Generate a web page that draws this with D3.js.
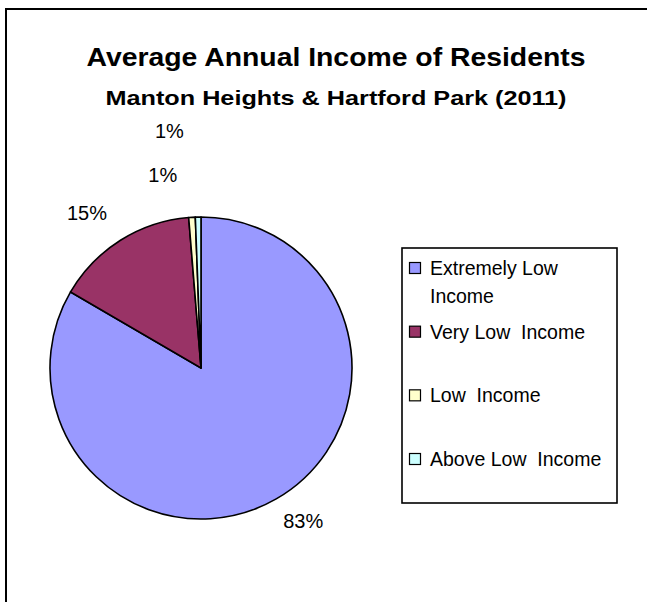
<!DOCTYPE html>
<html>
    <head>
        <title>Average Annual Income | D3</title>

        <script src="https://d3js.org/d3.v7.min.js" charset="utf-8"></script>

        <style>
            body {
                margin: 0;
                background: white;
                font-family: "Liberation Sans", Arial, sans-serif;
            }
            text {
                white-space: pre;
            }
        </style>
    </head>

    <body>
        <script>
            //chart data
            var categories = ["Extremely Low Income", "Very Low  Income", "Low  Income", "Above Low  Income"];
            var legendLines = [["Extremely Low", "Income"], ["Very Low  Income"], ["Low  Income"], ["Above Low  Income"]];
            var shares = [83.4, 15.3, 0.7, 0.6];
            var labels = ["83%", "15%", "1%", "1%"];
            var colors = ["#9999ff", "#993366", "#ffffcc", "#ccffff"];

            var width = 647;
            var height = 602;

            var svg = d3.select("body")
                .append("svg")
                .attr("width", width)
                .attr("height", height);

            //outer chart frame (right and bottom run off the page)
            svg.append("rect")
                .attr("x", 6)
                .attr("y", 9)
                .attr("width", 700)
                .attr("height", 700)
                .attr("fill", "none")
                .attr("stroke", "#000")
                .attr("stroke-width", 2);

            //titles
            svg.append("text")
                .attr("x", 336)
                .attr("y", 66)
                .attr("text-anchor", "middle")
                .attr("font-size", 25)
                .attr("font-weight", "bold")
                .attr("textLength", 499)
                .attr("lengthAdjust", "spacingAndGlyphs")
                .text("Average Annual Income of Residents");

            svg.append("text")
                .attr("x", 336)
                .attr("y", 105)
                .attr("text-anchor", "middle")
                .attr("font-size", 21)
                .attr("font-weight", "bold")
                .attr("textLength", 461)
                .attr("lengthAdjust", "spacingAndGlyphs")
                .text("Manton Heights & Hartford Park (2011)");

            //pie
            var cx = 201, cy = 368, radius = 151;

            var pie = d3.pie().sort(null).value(function(d) { return d; });
            var arcs = pie(shares);

            var arc = d3.arc().innerRadius(0).outerRadius(radius);
            var labelArc = d3.arc().innerRadius(radius + 14).outerRadius(radius + 14);

            var g = svg.append("g")
                .attr("transform", "translate(" + cx + "," + cy + ")");

            g.selectAll("path")
                .data(arcs)
                .enter()
                .append("path")
                .attr("d", arc)
                .attr("fill", function(d, i) { return colors[i]; })
                .attr("stroke", "#000")
                .attr("stroke-width", 1.6)
                .attr("stroke-linejoin", "round");

            //percentage labels; the thin slices get stacked above the pie
            g.selectAll("text.pct")
                .data(arcs)
                .enter()
                .append("text")
                .attr("class", "pct")
                .attr("font-size", 20)
                .each(function(d, i) {
                    var p = labelArc.centroid(d);
                    var t = d3.select(this);
                    if (d.endAngle - d.startAngle < 0.2) {
                        //Excel pushed these up, one above the other
                        var k = (i == labels.length - 1) ? 1 : 0;
                        t.attr("x", p[0] - 14)
                            .attr("y", -radius - 35 - k * 44)
                            .attr("text-anchor", "end");
                    } else if (p[0] >= 0) {
                        t.attr("x", p[0])
                            .attr("y", p[1] + 17)
                            .attr("text-anchor", "start");
                    } else {
                        t.attr("x", p[0] - 6)
                            .attr("y", p[1] - 8)
                            .attr("text-anchor", "end");
                    }
                })
                .text(function(d, i) { return labels[i]; });

            //legend
            var legend = svg.append("g");
            var legendY = d3.scaleLinear().domain([0, 3]).range([268, 459]);

            legend.append("rect")
                .attr("x", 402)
                .attr("y", 248)
                .attr("width", 215)
                .attr("height", 255)
                .attr("fill", "white")
                .attr("stroke", "#000")
                .attr("stroke-width", 1.6);

            var item = legend.selectAll("g.item")
                .data(categories)
                .enter()
                .append("g")
                .attr("class", "item")
                .attr("transform", function(d, i) { return "translate(0," + legendY(i) + ")"; });

            item.append("rect")
                .attr("x", 409.5)
                .attr("y", -5.5)
                .attr("width", 11)
                .attr("height", 11)
                .attr("fill", function(d, i) { return colors[i]; })
                .attr("stroke", "#000")
                .attr("stroke-width", 1.2);

            item.append("text")
                .attr("x", 430)
                .attr("y", 7)
                .attr("font-size", 19.5)
                .selectAll("tspan")
                .data(function(d, i) { return legendLines[i]; })
                .enter()
                .append("tspan")
                .attr("x", 430)
                .attr("dy", function(d, j) { return j == 0 ? 0 : 28; })
                .text(function(d) { return d; });
        </script>
    </body>
</html>
